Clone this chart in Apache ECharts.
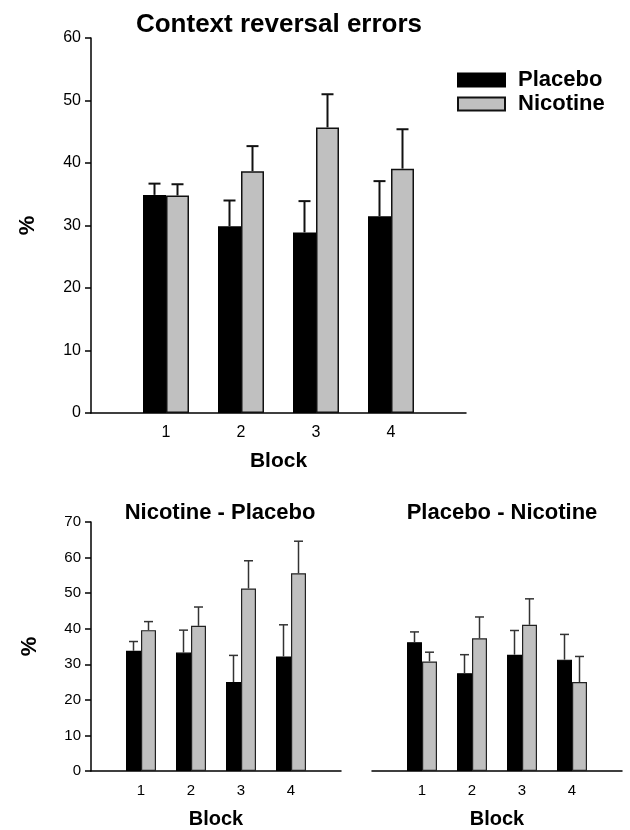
<!DOCTYPE html>
<html>
<head>
<meta charset="utf-8">
<script src="https://cdn.jsdelivr.net/npm/echarts@6/dist/echarts.min.js"></script>
<style>html,body{margin:0;padding:0;background:#fff}#c{width:630px;height:830px}</style>
</head>
<body>
<div id="c"></div>
<script>
const blocks = ['1', '2', '3', '4'];
const xCats = [''].concat(blocks, ['']);

const topPlacebo = [34.9, 29.9, 28.9, 31.5];
const topPlaceboErr = [36.7, 34.0, 33.9, 37.1];
const topNicotine = [34.8, 38.7, 45.7, 39.1];
const topNicotineErr = [36.6, 42.7, 51.0, 45.4];

const npPlacebo = [33.8, 33.3, 25.0, 32.2];
const npPlaceboErr = [36.4, 39.6, 32.5, 41.1];
const npNicotine = [39.6, 40.8, 51.3, 55.6];
const npNicotineErr = [42.0, 46.1, 59.1, 64.6];

const pnPlacebo = [36.2, 27.5, 32.7, 31.3];
const pnPlaceboErr = [39.1, 32.7, 39.5, 38.4];
const pnNicotine = [30.8, 37.3, 41.1, 25.0];
const pnNicotineErr = [33.4, 43.3, 48.4, 32.2];

const FONT = 'Liberation Sans, Arial, sans-serif';
const pad = a => [null].concat(a, [null]);

function barSeries(name, g, vals, color, width, border, bw) {
  return {
    name: name, type: 'bar', xAxisIndex: g, yAxisIndex: g,
    data: pad(vals), barWidth: width, barGap: '0%',
    itemStyle: { color: color, borderColor: border, borderWidth: bw },
    silent: true, z: 2
  };
}
function errSeries(g, vals, errs, side, half, cap, color, lw) {
  return {
    type: 'custom', xAxisIndex: g, yAxisIndex: g, silent: true, z: 3,
    data: vals.map((v, i) => [i + 1, v, errs[i]]),
    renderItem: function (params, api) {
      const x = api.value(0);
      const p0 = api.coord([x, api.value(1)]);
      const p1 = api.coord([x, api.value(2)]);
      const cx = p0[0] + side * half;
      return {
        type: 'group', children: [
          { type: 'line', shape: { x1: cx, y1: p0[1], x2: cx, y2: p1[1] }, style: { stroke: color, lineWidth: lw } },
          { type: 'line', shape: { x1: cx - cap / 2, y1: p1[1], x2: cx + cap / 2, y2: p1[1] }, style: { stroke: color, lineWidth: lw } }
        ]
      };
    }
  };
}
function xAx(g, labelSize, nameSize, nameGap) {
  return {
    type: 'category', gridIndex: g, data: xCats, boundaryGap: false,
    axisLine: { lineStyle: { color: '#000', width: 1.5 } },
    axisTick: { show: false },
    axisLabel: { color: '#000', fontSize: labelSize, fontFamily: FONT, margin: 12, interval: 0 },
    name: 'Block', nameLocation: 'middle', nameGap: nameGap,
    nameTextStyle: { color: '#000', fontSize: nameSize, fontWeight: 'bold', fontFamily: FONT }
  };
}
function yAx(g, max, show, labelSize, nameGap) {
  return {
    type: 'value', gridIndex: g, min: 0, max: max, interval: 10, show: show,
    splitLine: { show: false },
    axisLine: { show: true, lineStyle: { color: '#000', width: 1.5 } },
    axisTick: { show: true, length: 6, lineStyle: { color: '#000', width: 1.5 } },
    axisLabel: { color: '#000', fontSize: labelSize, fontFamily: FONT, margin: 10 },
    name: '%', nameLocation: 'middle', nameRotate: 90, nameGap: nameGap,
    nameTextStyle: { color: '#000', fontSize: 22, fontWeight: 'bold', fontFamily: FONT }
  };
}

const chart = echarts.init(document.getElementById('c'), null, { renderer: 'canvas' });
chart.setOption({
  animation: false,
  backgroundColor: '#fff',
  grid: [
    { left: 91, top: 38, width: 375, height: 375 },
    { left: 91, top: 522, width: 250, height: 250 },
    { left: 372, top: 522, width: 250, height: 250 }
  ],
  graphic: [
    { type: 'text', x: 279, y: 25, style: { text: 'Context reversal errors', fontSize: 26, fontWeight: 'bold', fontFamily: FONT, fill: '#000', textAlign: 'center', textVerticalAlign: 'middle' } },
    { type: 'text', x: 220, y: 513, style: { text: 'Nicotine - Placebo', fontSize: 22, fontWeight: 'bold', fontFamily: FONT, fill: '#000', textAlign: 'center', textVerticalAlign: 'middle' } },
    { type: 'text', x: 502, y: 513, style: { text: 'Placebo - Nicotine', fontSize: 22, fontWeight: 'bold', fontFamily: FONT, fill: '#000', textAlign: 'center', textVerticalAlign: 'middle' } }
  ],
  legend: {
    data: ['Placebo', 'Nicotine'], orient: 'vertical', left: 452, top: 64,
    icon: 'rect', itemWidth: 47, itemHeight: 13, itemGap: 2,
    selectedMode: false,
    textStyle: { color: '#000', fontSize: 22, fontWeight: 'bold', fontFamily: FONT, lineHeight: 22, padding: [0, 0, 0, 8] }
  },
  xAxis: [xAx(0, 16, 21, 38), xAx(1, 15, 20, 38), xAx(2, 15, 20, 38)],
  yAxis: [yAx(0, 60, true, 16, 52), yAx(1, 70, true, 15, 50), yAx(2, 70, false, 15, 50)],
  series: [
    barSeries('Placebo', 0, topPlacebo, '#000', 23, '#000', 1.5),
    barSeries('Nicotine', 0, topNicotine, '#c0c0c0', 23, '#111', 1.5),
    errSeries(0, topPlacebo, topPlaceboErr, -1, 11.5, 12, '#111', 2),
    errSeries(0, topNicotine, topNicotineErr, 1, 11.5, 12, '#111', 2),
    barSeries('Placebo', 1, npPlacebo, '#000', 15, '#000', 1.2),
    barSeries('Nicotine', 1, npNicotine, '#c0c0c0', 15, '#222', 1.2),
    errSeries(1, npPlacebo, npPlaceboErr, -1, 7.5, 9, '#333', 1.5),
    errSeries(1, npNicotine, npNicotineErr, 1, 7.5, 9, '#333', 1.5),
    barSeries('Placebo', 2, pnPlacebo, '#000', 15, '#000', 1.2),
    barSeries('Nicotine', 2, pnNicotine, '#c0c0c0', 15, '#222', 1.2),
    errSeries(2, pnPlacebo, pnPlaceboErr, -1, 7.5, 9, '#333', 1.5),
    errSeries(2, pnNicotine, pnNicotineErr, 1, 7.5, 9, '#333', 1.5)
  ]
});
</script>
</body>
</html>
